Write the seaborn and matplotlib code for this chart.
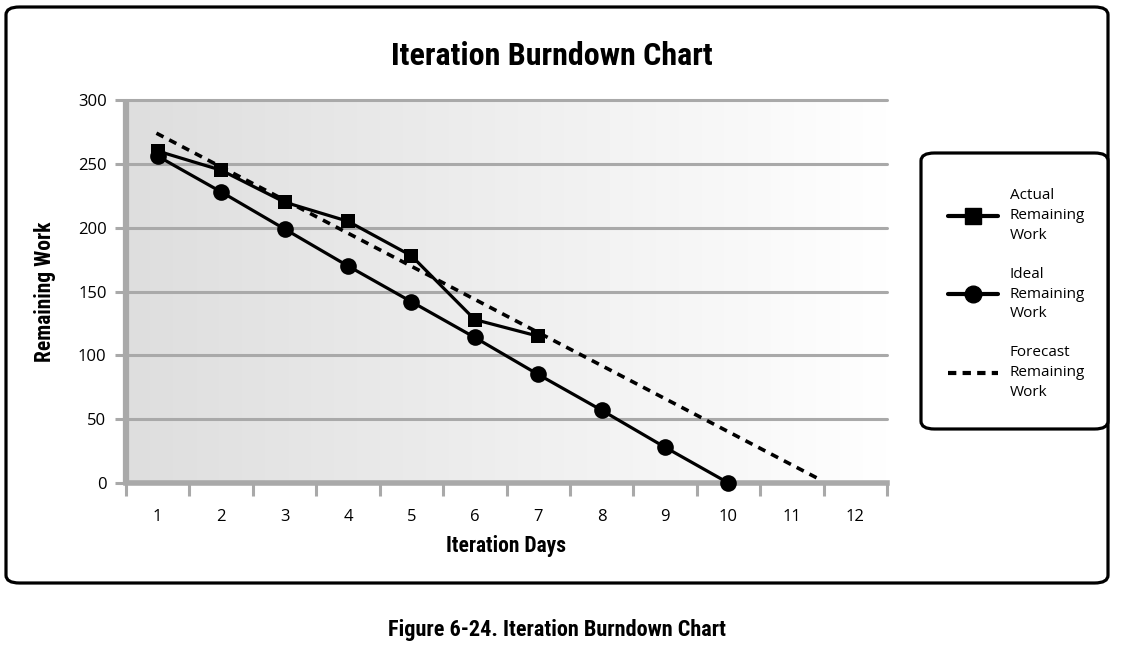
import numpy as np
import seaborn as sns
import matplotlib.pyplot as plt
from matplotlib.lines import Line2D
from matplotlib.patches import FancyBboxPatch
from matplotlib.colors import LinearSegmentedColormap

# data
days = list(range(1, 13))
actual_days = [1, 2, 3, 4, 5, 6, 7]
actual_work = [260, 245, 220, 205, 178, 128, 115]
ideal_days = [1, 2, 3, 4, 5, 6, 7, 8, 9, 10]
ideal_work = [256, 228, 199, 170, 142, 114, 85, 57, 28, 0]
forecast_days = [0.98, 11.47]
forecast_work = [274, 2]
y_ticks = [0, 50, 100, 150, 200, 250, 300]
series_labels = ["Actual\nRemaining\nWork", "Ideal\nRemaining\nWork", "Forecast\nRemaining\nWork"]

sns.set_style("white")
narrow = ['Liberation Sans Narrow', 'Roboto Condensed', 'Roboto', 'DejaVu Sans']
plt.rcParams['font.family'] = ['Open Sans', 'Liberation Sans', 'DejaVu Sans']
plt.rcParams['text.color'] = 'black'
plt.rcParams['axes.labelcolor'] = 'black'
plt.rcParams['xtick.color'] = 'black'
plt.rcParams['ytick.color'] = 'black'

fig = plt.figure(figsize=(11.22, 6.48), dpi=100)
ax = fig.add_axes([126/1122, 1-483/648, (887-126)/1122, (483-100)/648])

# gradient background of plot area
cmap = LinearSegmentedColormap.from_list("bg", ["#dedede", "#ffffff"])
ax.imshow(np.linspace(0, 1, 256).reshape(1, -1), cmap=cmap, extent=[0, 1, 0, 1],
          transform=ax.transAxes, aspect='auto', zorder=0)

grid_col = "#a9a9a9"
for v in y_ticks[1:]:
    ax.axhline(v, color=grid_col, lw=2.2, zorder=1, clip_on=False)

sns.lineplot(x=actual_days, y=actual_work, ax=ax, color='black', lw=2.3, marker='s',
             markersize=10, markeredgewidth=0, zorder=4, clip_on=False)
sns.lineplot(x=ideal_days, y=ideal_work, ax=ax, color='black', lw=2.3, marker='o',
             markersize=12, markeredgewidth=0, zorder=4, clip_on=False)
sns.lineplot(x=forecast_days, y=forecast_work, ax=ax, color='black', lw=2.6,
             linestyle=(0, (2.2, 1.8)), zorder=3)

ax.set_xlim(0.5, 12.5)
ax.set_ylim(0, 300)
ax.set_yticks(y_ticks)
ax.set_yticklabels([str(v) for v in y_ticks], fontsize=12)
ax.set_xticks(np.arange(0.5, 13, 1))
ax.set_xticklabels([])
ax.set_xticks(days, minor=True)
ax.set_xticklabels([str(d) for d in days], minor=True, fontsize=12)
ax.tick_params(axis='x', which='major', length=9, width=2.2, color=grid_col,
               direction='out', bottom=True)
ax.tick_params(axis='x', which='minor', length=0, pad=19, bottom=True)
ax.tick_params(axis='y', length=8, width=2.2, color=grid_col, pad=6, left=True)

for s in ['top', 'right']:
    ax.spines[s].set_visible(False)
ax.spines['left'].set_color(grid_col)
ax.spines['left'].set_linewidth(4.5)
ax.spines['left'].set_capstyle('butt')
ax.spines['bottom'].set_color(grid_col)
ax.spines['bottom'].set_linewidth(4)
ax.spines['left'].set_zorder(2)
ax.spines['bottom'].set_zorder(2)

ax.set_xlabel("Iteration Days", fontsize=15.5, fontweight='bold', family=narrow, labelpad=7)
ax.set_ylabel("Remaining Work", fontsize=15.5, fontweight='bold', family=narrow, labelpad=16)

fig.text(552/1122, 1-56/648, "Iteration Burndown Chart", ha='center', va='center',
         fontsize=23, fontweight='bold', family=narrow)
fig.text(557/1122, 1-630/648, "Figure 6-24. Iteration Burndown Chart", ha='center', va='center',
         fontsize=16, fontweight='bold', family=narrow)

# outer rounded frame
outer = FancyBboxPatch((6/1122, 1-583/648), (1108-6)/1122, (583-7)/648,
                       boxstyle="round,pad=0,rounding_size=0.012", transform=fig.transFigure,
                       fill=False, lw=2.3, ec='black')
fig.add_artist(outer)
# legend frame
leg_box = FancyBboxPatch((921/1122, 1-429/648), (1108-921)/1122, (429-153)/648,
                         boxstyle="round,pad=0,rounding_size=0.012", transform=fig.transFigure,
                         fill=True, fc='white', lw=2.3, ec='black')
fig.add_artist(leg_box)

handles = [
    Line2D([], [], color='black', lw=3, marker='s', markersize=11),
    Line2D([], [], color='black', lw=3, marker='o', markersize=12),
    Line2D([], [], color='black', lw=3, linestyle=(0, (2, 1.5))),
]
leg = fig.legend(handles, series_labels, loc='center left', bbox_to_anchor=(940/1122, 1-294/648),
                 frameon=False, fontsize=11, handlelength=3.3, handletextpad=0.75,
                 labelspacing=1.55, borderpad=0)
for t in leg.get_texts():
    t.set_linespacing(1.45)

fig.savefig("out.png", dpi=100)
